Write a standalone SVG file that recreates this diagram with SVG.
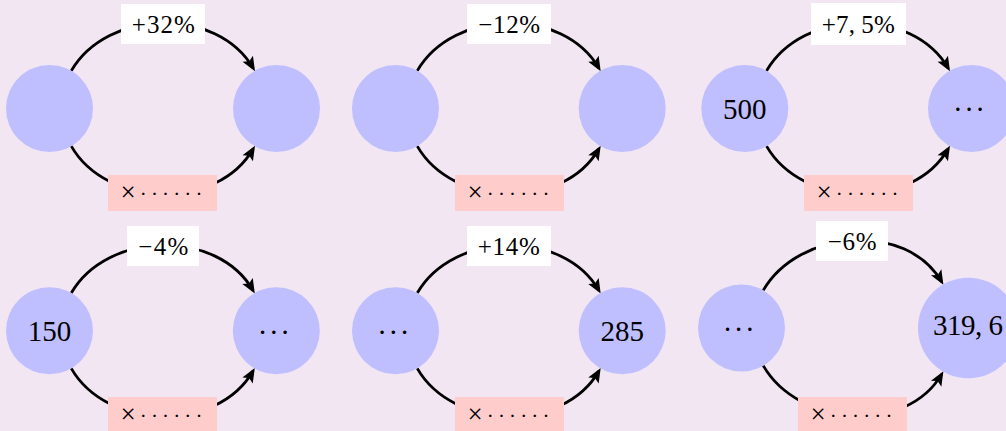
<svg xmlns="http://www.w3.org/2000/svg" width="1006" height="431" viewBox="0 0 1006 431">
<style>
.bg{fill:#F1E6F2}
.node{fill:#BFBFFF}
.edge{fill:none;stroke:#000;stroke-width:2.8;marker-end:url(#arr)}
.top{fill:#FFFFFF}
.bot{fill:#FFCCCC}
.t{font-family:"Liberation Serif","DejaVu Serif",serif;fill:#000;text-anchor:middle}
.lbl{font-size:25px}
.mul{font-size:21px}
.x{font-size:27px}
.nt{font-size:29px}
</style>
<defs>
<marker id="arr" markerUnits="userSpaceOnUse" viewBox="-13 -8 17 16" refX="0" refY="0" markerWidth="17" markerHeight="16" orient="auto" overflow="visible">
<path d="M3.5,0 L-11,-6 L-8,0 L-11,6 Z" fill="#000"/>
</marker>
</defs>
<rect class="bg" x="0" y="0" width="1006" height="431"/>

<g id="connectors">
<path class="edge" d="M71.25,70.83 C107.17,8.62 217.33,6.02 253.25,68.23"/>
<path class="edge" d="M71.25,146.17 C107.17,208.38 217.33,210.98 253.25,148.77"/>
<path class="edge" d="M417.25,70.83 C453.11,8.72 563.09,6.12 598.95,68.23"/>
<path class="edge" d="M417.25,146.17 C453.11,208.28 563.09,210.88 598.95,148.77"/>
<path class="edge" d="M766.55,70.83 C802.41,8.72 912.39,6.12 948.25,68.23"/>
<path class="edge" d="M766.55,146.17 C802.41,208.28 912.39,210.88 948.25,148.77"/>
<path class="edge" d="M71.25,293.03 C107.13,230.88 217.17,228.28 253.05,290.43"/>
<path class="edge" d="M71.25,368.37 C107.13,430.52 217.17,433.12 253.05,370.97"/>
<path class="edge" d="M417.25,293.03 C453.11,230.92 563.09,228.32 598.95,290.43"/>
<path class="edge" d="M417.25,368.37 C453.11,430.48 563.09,433.08 598.95,370.97"/>
<path class="edge" d="M763.25,290.33 C798.49,229.30 906.41,220.81 941.65,281.84"/>
<path class="edge" d="M763.25,365.67 C798.49,426.70 906.41,435.19 941.65,374.16"/>

<g id="lbl-p1">
<rect class="top" x="121" y="4" width="84" height="40"/>
<text class="t lbl" x="163.3" y="32.5" textLength="63" lengthAdjust="spacing">+32%</text>
<rect class="bot" x="108" y="175" width="109" height="36"/>
<text class="t mul" x="161.5" y="201" textLength="82" lengthAdjust="spacing"><tspan class="x">×</tspan>······</text>
</g>
<g id="lbl-p2">
<rect class="top" x="467" y="4" width="84" height="40"/>
<text class="t lbl" x="509.2" y="32.5" textLength="62" lengthAdjust="spacing">−12%</text>
<rect class="bot" x="455" y="175" width="109" height="36"/>
<text class="t mul" x="508.5" y="201" textLength="82" lengthAdjust="spacing"><tspan class="x">×</tspan>······</text>
</g>
<g id="lbl-p3">
<rect class="top" x="811" y="3" width="95" height="42"/>
<text class="t lbl" x="858.3" y="32.5" textLength="73" lengthAdjust="spacing">+7, 5%</text>
<rect class="bot" x="804" y="175" width="109" height="36"/>
<text class="t mul" x="857.5" y="201" textLength="82" lengthAdjust="spacing"><tspan class="x">×</tspan>······</text>
</g>
<g id="lbl-p4">
<rect class="top" x="127" y="226" width="72" height="40"/>
<text class="t lbl" x="163.3" y="255" textLength="50" lengthAdjust="spacing">−4%</text>
<rect class="bot" x="108" y="397" width="109" height="36"/>
<text class="t mul" x="161.5" y="423" textLength="82" lengthAdjust="spacing"><tspan class="x">×</tspan>······</text>
</g>
<g id="lbl-p5">
<rect class="top" x="467" y="226" width="84" height="40"/>
<text class="t lbl" x="508.8" y="255" textLength="62" lengthAdjust="spacing">+14%</text>
<rect class="bot" x="455" y="397" width="109" height="36"/>
<text class="t mul" x="508.5" y="423" textLength="82" lengthAdjust="spacing"><tspan class="x">×</tspan>······</text>
</g>
<g id="lbl-p6">
<rect class="top" x="816" y="221" width="72" height="40"/>
<text class="t lbl" x="852.2" y="250" textLength="49" lengthAdjust="spacing">−6%</text>
<rect class="bot" x="798" y="397" width="109" height="36"/>
<text class="t mul" x="851.5" y="423" textLength="82" lengthAdjust="spacing"><tspan class="x">×</tspan>······</text>
</g>
</g>

<g id="p1-left"><circle class="node" cx="49.5" cy="108.5" r="43.5"/></g>
<g id="p1-right"><circle class="node" cx="276.5" cy="108.5" r="43.5"/></g>
<g id="p2-left"><circle class="node" cx="395.5" cy="108.5" r="43.5"/></g>
<g id="p2-right"><circle class="node" cx="622.2" cy="108.5" r="43.5"/></g>
<g id="p3-left"><circle class="node" cx="744.8" cy="108.5" r="43.5"/><text class="t nt" x="744.8" y="118.5">500</text></g>
<g id="p3-right"><circle class="node" cx="971.5" cy="108.5" r="43.5"/><text class="t nt" x="969" y="118.5" textLength="32" lengthAdjust="spacing">···</text></g>
<g id="p4-left"><circle class="node" cx="49.5" cy="330.7" r="43.5"/><text class="t nt" x="49.5" y="340.7">150</text></g>
<g id="p4-right"><circle class="node" cx="276.3" cy="330.7" r="43.5"/><text class="t nt" x="273.8" y="341.5" textLength="32" lengthAdjust="spacing">···</text></g>
<g id="p5-left"><circle class="node" cx="395.5" cy="330.7" r="43.5"/><text class="t nt" x="393.3" y="341.5" textLength="32" lengthAdjust="spacing">···</text></g>
<g id="p5-right"><circle class="node" cx="622.2" cy="330.7" r="43.5"/><text class="t nt" x="622.2" y="340.7">285</text></g>
<g id="p6-left"><circle class="node" cx="741.5" cy="328" r="43.5"/><text class="t nt" x="738.7" y="338.8" textLength="32" lengthAdjust="spacing">···</text></g>
<g id="p6-right"><circle class="node" cx="968.3" cy="328" r="50.3"/><text class="t nt" x="968" y="335" textLength="70" lengthAdjust="spacing">319, 6</text></g>
</svg>
